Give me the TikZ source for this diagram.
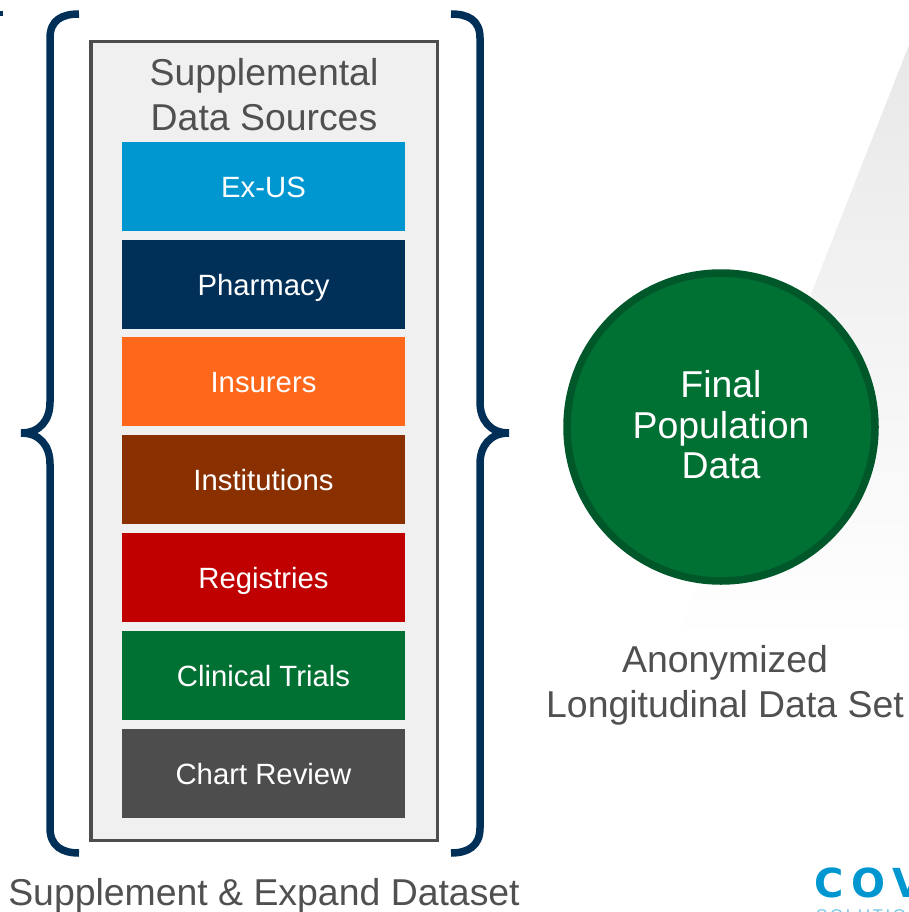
\documentclass[tikz,border=0pt]{standalone}
\usepackage{fontspec}
\setmainfont{Liberation Sans}
\newfontfamily\logofont{DejaVu Sans}[LetterSpace=20]
\newfontfamily\logosub{Liberation Sans}[LetterSpace=15]
\definecolor{navy}{HTML}{003057}
\definecolor{txtgray}{HTML}{505050}
\definecolor{cblue}{HTML}{0097D1}
\definecolor{corange}{HTML}{FF671B}
\definecolor{cbrown}{HTML}{8A3000}
\definecolor{cred}{HTML}{C00000}
\definecolor{cgreen}{HTML}{007033}
\definecolor{cdark}{HTML}{4D4D4D}
\definecolor{dgreen}{HTML}{00582A}
\tikzset{
  x=1pt,y=-1pt,
  brace/.style={draw=navy,line width=7.5pt,line cap=butt,line join=round},
  srcbox/.style={minimum width=283pt,minimum height=89pt,inner sep=0pt,outer sep=0pt,text=white,text height=21pt,text depth=0pt,font=\fontsize{29.3}{32}\selectfont,anchor=north west},
  graytxt/.style={text=txtgray,align=center,inner sep=0pt},
}
\begin{document}
\begin{tikzpicture}
\useasboundingbox (0,0) rectangle (909,912);
\clip (0,0) rectangle (909,912);
% wedge
\shade[top color=black!9,bottom color=white] (909,45) -- (909,640) -- (675,640) -- cycle;
% left panel
\node[draw=cdark,fill=black!6,line width=3.5pt,outer sep=0pt,minimum width=346.5pt,minimum height=798.5pt,inner sep=0pt,anchor=north west] (panel) at (90.75,41.75) {};
\node[graytxt,font=\fontsize{37.4}{44.5}\selectfont] (title) at (264,94.5) {Supplemental\\Data Sources};
\node[srcbox,fill=cblue] (b1) at (122,142) {Ex-US};
\node[srcbox,fill=navy] (b2) at (122,240) {Pharmacy};
\node[srcbox,fill=corange] (b3) at (122,337) {Insurers};
\node[srcbox,fill=cbrown] (b4) at (122,435) {Institutions};
\node[srcbox,fill=cred] (b5) at (122,533) {Registries};
\node[srcbox,fill=cgreen] (b6) at (122,631) {Clinical Trials};
\node[srcbox,fill=cdark] (b7) at (122,729) {Chart Review};
% braces
\draw[brace] (79,14) .. controls (62,14) and (50,20) .. (50,38) -- (50,402)
  .. controls (50,420) and (40,433) .. (21,433);
\draw[brace] (21,433) .. controls (40,433) and (50,446) .. (50,464) -- (50,828)
  .. controls (50,846) and (62,853) .. (79,853);
\draw[brace] (451,14) .. controls (468,14) and (480,20) .. (480,38) -- (480,402)
  .. controls (480,420) and (490,433) .. (509,433);
\draw[brace] (509,433) .. controls (490,433) and (480,446) .. (480,464) -- (480,828)
  .. controls (480,846) and (468,853) .. (451,853);
\draw[navy,line width=5pt] (0,13.5) -- (2.5,13.5);
% circle
\node[circle,draw=dgreen,fill=cgreen,line width=7.5pt,outer sep=0pt,minimum size=308pt,inner sep=0pt,text=white,align=center,font=\fontsize{37.4}{40.5}\selectfont] (final) at (721,427) {\vphantom{Fp}Final\\Population\\Data\vspace{4pt}};
% captions
\node[graytxt,font=\fontsize{37.4}{44.5}\selectfont] (anon) at (725,685.5) {Anonymized\\Longitudinal Data Set};
\node[graytxt,font=\fontsize{37.4}{44}\selectfont] (supp) at (264,896) {Supplement \& Expand Dataset};
% logo
\node[anchor=base west,inner sep=0pt,text=cblue,font=\fontsize{40}{40}\selectfont\logofont\bfseries] (logo) at (814,897) {COV};
\node[anchor=base west,inner sep=0pt,text=cblue!55,font=\fontsize{17}{17}\selectfont\logosub] (logo2) at (816,921) {SOLUTIONS};
\end{tikzpicture}
\end{document}
